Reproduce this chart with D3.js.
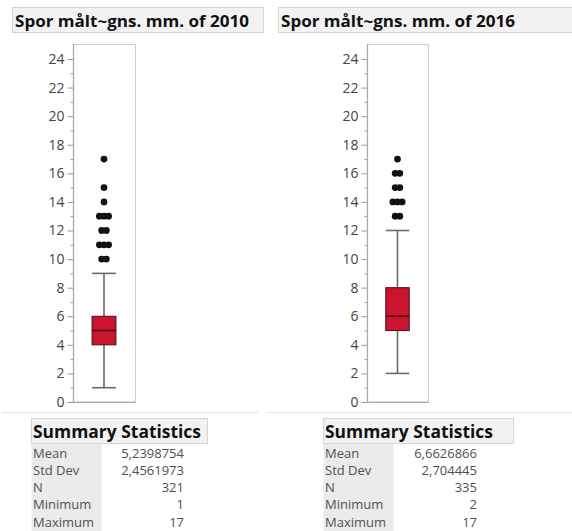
<!DOCTYPE html>
<html>
<head>
<meta charset="utf-8">
<script src="https://cdn.jsdelivr.net/npm/d3@7/dist/d3.min.js"></script>
<style>
  html, body { margin: 0; padding: 0; background: #fff; }
  svg { display: block; }
</style>
</head>
<body>
<svg id="chart" width="572" height="531"></svg>
<script>
// Track depth (mm) distributions for two survey years
const years = ["2010", "2016"];
const titles = ["Spor målt~gns. mm. of 2010", "Spor målt~gns. mm. of 2016"];
const whiskerLow = [1, 2];
const quartile1 = [4, 5];
const medians = [5, 6];
const quartile3 = [6, 8];
const whiskerHigh = [9, 12];
const outliers2010 = [10, 10, 11, 11, 11, 12, 12, 13, 13, 13, 14, 15, 17];
const outliers2016 = [13, 13, 14, 14, 14, 15, 15, 16, 16, 17];
const majorTicks = [0, 2, 4, 6, 8, 10, 12, 14, 16, 18, 20, 22, 24];
const minorTicks = [1, 3, 5, 7, 9, 11, 13, 15, 17, 19, 21, 23];
const statLabels = ["Mean", "Std Dev", "N", "Minimum", "Maximum"];
const stats2010 = ["5,2398754", "2,4561973", "321", "1", "17"];
const stats2016 = ["6,6626866", "2,704445", "335", "2", "17"];

const outliers = [outliers2010, outliers2016];
const stats = [stats2010, stats2016];

const svg = d3.select("#chart");
const font = "'Open Sans', 'Noto Sans', sans-serif";

const y = d3.scaleLinear().domain([0, 25]).range([402, 44.7]);

// per-panel layout
const panels = [
  { titleX: 12, titleW: 251, plotL: 73, plotR: 135, tableL: 31, tableR: 207, labelColR: 101, valueR: 184 },
  { titleX: 278, titleW: 300, plotL: 367, plotR: 428, tableL: 323, tableR: 513, labelColR: 393, valueR: 477 }
];

panels.forEach((p, i) => {
  const g = svg.append("g");

  // panel title
  g.append("rect")
    .attr("x", p.titleX + 0.5).attr("y", 7.5)
    .attr("width", p.titleW).attr("height", 25)
    .attr("fill", "#f2f2f2").attr("stroke", "#d4d4d4");
  g.append("text")
    .attr("x", p.titleX + 3).attr("y", 26.5)
    .attr("font-family", font).attr("font-weight", 700)
    .attr("font-size", 16).attr("fill", "#111")
    .attr("textLength", 234).attr("lengthAdjust", "spacingAndGlyphs")
    .text(titles[i]);

  // plot frame
  g.append("rect")
    .attr("x", p.plotL + 0.5).attr("y", 44.5)
    .attr("width", p.plotR - p.plotL).attr("height", 402 - 44.5)
    .attr("fill", "none").attr("stroke", "#cfcfcf").attr("stroke-width", 1.2);

  const x = d3.scaleBand().domain([years[i]]).range([p.plotL, p.plotR])
    .paddingInner(0).paddingOuter(0.8);
  const cx = x(years[i]) + x.bandwidth() / 2;
  const bw = x.bandwidth();

  // axis: major ticks with labels, minor ticks without
  const axMajor = g.append("g").attr("transform", `translate(${p.plotL + 0.5},0)`)
    .call(d3.axisLeft(y).tickValues(majorTicks).tickSize(6).tickPadding(3).tickFormat(d3.format("d")));
  const axMinor = g.append("g").attr("transform", `translate(${p.plotL + 0.5},0)`)
    .call(d3.axisLeft(y).tickValues(minorTicks).tickSize(3).tickFormat(""));
  [axMajor, axMinor].forEach(ax => {
    ax.select(".domain").remove();
    ax.selectAll(".tick line").attr("stroke", "#999");
  });
  axMajor.selectAll(".tick text")
    .attr("font-family", font).attr("font-size", 14).attr("fill", "#444");
  g.append("line")
    .attr("x1", p.plotL + 0.5).attr("x2", p.plotL + 0.5)
    .attr("y1", 44).attr("y2", 402.5)
    .attr("stroke", "#a8a8a8").attr("stroke-width", 1.2);
  g.append("line")
    .attr("x1", p.plotL).attr("x2", p.plotR + 0.5)
    .attr("y1", 402.5).attr("y2", 402.5)
    .attr("stroke", "#a8a8a8").attr("stroke-width", 1.2);

  // whiskers and caps
  const wc = "#6a6a6a";
  g.append("line").attr("x1", cx).attr("x2", cx)
    .attr("y1", y(whiskerLow[i])).attr("y2", y(whiskerHigh[i]))
    .attr("stroke", wc).attr("stroke-width", 1.6);
  [whiskerLow[i], whiskerHigh[i]].forEach(v => {
    g.append("line").attr("x1", cx - bw / 2).attr("x2", cx + bw / 2)
      .attr("y1", y(v)).attr("y2", y(v))
      .attr("stroke", wc).attr("stroke-width", 1.6);
  });

  // box
  g.append("rect")
    .attr("x", cx - bw / 2).attr("y", y(quartile3[i]))
    .attr("width", bw).attr("height", y(quartile1[i]) - y(quartile3[i]))
    .attr("fill", "#cc1430").attr("stroke", "#4a1016").attr("stroke-width", 1);
  g.append("line").attr("x1", cx - bw / 2).attr("x2", cx + bw / 2)
    .attr("y1", y(medians[i])).attr("y2", y(medians[i]))
    .attr("stroke", "#3a0a10").attr("stroke-width", 1.4);

  // outlier points, tied values spread side by side
  const counts = d3.rollup(outliers[i], v => v.length, d => d);
  const seen = new Map();
  const pts = outliers[i].map(v => {
    const k = seen.get(v) || 0;
    seen.set(v, k + 1);
    const n = counts.get(v);
    return { v, dx: (k - (n - 1) / 2) * 4.6 };
  });
  g.selectAll("circle.out").data(pts).join("circle")
    .attr("class", "out")
    .attr("cx", d => cx + d.dx).attr("cy", d => y(d.v))
    .attr("r", 3.4).attr("fill", "#111");

  // separator under the plot
  g.append("line")
    .attr("x1", p.titleX - 10).attr("x2", p.titleX + p.titleW - 5)
    .attr("y1", 412.5).attr("y2", 412.5)
    .attr("stroke", "#e4e4e4").attr("stroke-width", 1);

  // summary statistics table
  g.append("rect")
    .attr("x", p.tableL + 0.5).attr("y", 418.5)
    .attr("width", p.tableR - p.tableL).attr("height", 25)
    .attr("fill", "#f2f2f2").attr("stroke", "#d4d4d4");
  g.append("text")
    .attr("x", p.tableL + 2).attr("y", 437.5)
    .attr("font-family", font).attr("font-weight", 700)
    .attr("font-size", 17).attr("fill", "#111")
    .attr("textLength", 168).attr("lengthAdjust", "spacingAndGlyphs")
    .text("Summary Statistics");

  const rowY = d3.scalePoint().domain(statLabels).range([453, 522]);
  g.append("rect")
    .attr("x", p.tableL + 0.5).attr("y", 444)
    .attr("width", p.labelColR - p.tableL).attr("height", 87)
    .attr("fill", "#ebebeb");
  g.selectAll("text.lab").data(statLabels).join("text")
    .attr("class", "lab")
    .attr("x", p.tableL + 2).attr("y", d => rowY(d) + 4.5)
    .attr("font-family", font).attr("font-size", 13).attr("fill", "#505050")
    .text(d => d);
  g.selectAll("text.val").data(statLabels).join("text")
    .attr("class", "val")
    .attr("x", p.valueR).attr("y", (d, j) => rowY(d) + 4.5)
    .attr("text-anchor", "end")
    .attr("font-family", font).attr("font-size", 13).attr("fill", "#505050")
    .text((d, j) => stats[i][j]);
});
</script>
</body>
</html>
